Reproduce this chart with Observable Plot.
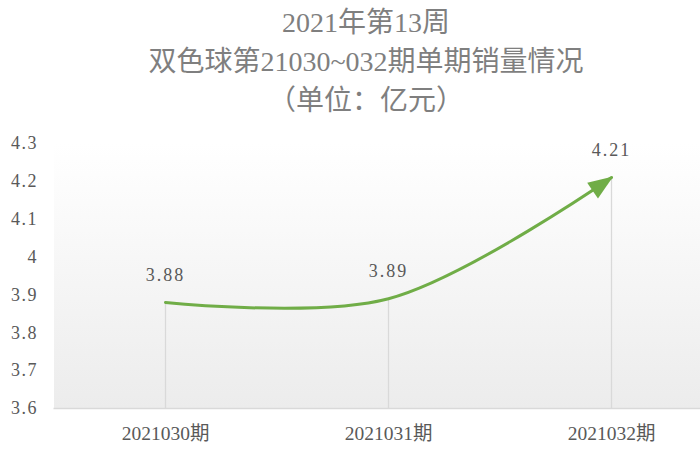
<!DOCTYPE html>
<html>
<head>
<meta charset="utf-8">
<script src="https://cdn.jsdelivr.net/npm/d3@7"></script>
<script src="https://cdn.jsdelivr.net/npm/@observablehq/plot@0.6"></script>
<style>
  html, body { margin: 0; padding: 0; background: #fff; }
  #wrap { width: 700px; height: 450px; overflow: hidden; position: relative; }
  #title {
    height: 120px; box-sizing: border-box; padding-top: 3px;
    text-align: center; padding-left: 32px;
    font-family: "Liberation Serif", "Noto Sans CJK SC", serif;
    font-size: 28px; line-height: 39px; color: #7f7f7f;
  }
  #chart svg { overflow: hidden; }
  g[aria-label="x-axis tick label"] text { font-size: 19.5px; }
  g[aria-label="y-axis tick label"] text { letter-spacing: 1.5px; }
</style>
</head>
<body>
<div id="wrap">
  <div id="title">
    <div>2021年第13周</div>
    <div>双色球第21030~032期单期销量情况</div>
    <div>（单位：亿元）</div>
  </div>
  <div id="chart"></div>
</div>
<script>
const periods = ["2021030期", "2021031期", "2021032期"];
const sales = [3.88, 3.89, 4.21];
const yTicks = [3.6, 3.7, 3.8, 3.9, 4.0, 4.1, 4.2, 4.3];
const green = "#70ad47";

const data = periods.map((p, i) => ({period: p, value: sales[i]}));

const chart = Plot.plot({
  width: 700,
  height: 330,
  marginTop: 23,
  marginBottom: 42,
  marginLeft: 53.5,
  marginRight: 0,
  style: {fontFamily: "'Liberation Serif', 'Noto Sans CJK SC', serif", fontSize: "18px", color: "#595959", background: "transparent"},
  x: {type: "point", domain: periods, range: [53.5, 722.5], padding: 0.5, label: null, tickSize: 0, tickPadding: 18},
  y: {domain: [3.6, 4.3], ticks: yTicks, tickFormat: d => String(+d.toFixed(1)), label: null, tickSize: 0, tickPadding: 16},
  marks: [
    Plot.frame({fill: "url(#bgGrad)", stroke: "none"}),
    Plot.ruleX(data, {x: "period", y1: 3.6, y2: "value", stroke: "#d9d9d9", strokeWidth: 1.3}),
    Plot.ruleY([3.6], {stroke: "#d9d9d9", strokeWidth: 1.5}),
    Plot.line(data, {x: "period", y: "value", curve: "catmull-rom", stroke: green, strokeWidth: 3, markerEnd: "arrow"}),
    Plot.text(data, {x: "period", y: "value", text: d => d.value.toFixed(2), dy: -27, fill: "#595959", fontSize: 18})
  ]
});

const ns = "http://www.w3.org/2000/svg";
const defs = document.createElementNS(ns, "defs");
defs.innerHTML = '<linearGradient id="bgGrad" x1="0" y1="0" x2="0" y2="1">' +
  '<stop offset="0" stop-color="#ffffff"/><stop offset="0.17" stop-color="#fcfcfc"/>' +
  '<stop offset="1" stop-color="#ececec"/></linearGradient>';
chart.prepend(defs);

chart.querySelectorAll("marker").forEach(m => {
  m.setAttribute("markerUnits", "userSpaceOnUse");
  m.setAttribute("viewBox", "-30 -15 60 30");
  m.setAttribute("markerWidth", 60);
  m.setAttribute("markerHeight", 30);
  m.setAttribute("fill", green);
  m.setAttribute("stroke", "none");
  const p = m.querySelector("path");
  if (p) p.setAttribute("d", "M-23,-9.5L2,0L-23,9.5Z");
});
chart.querySelectorAll('g[aria-label="text"] text').forEach(t => t.style.letterSpacing = "2px");

document.getElementById("chart").appendChild(chart);
</script>
</body>
</html>
